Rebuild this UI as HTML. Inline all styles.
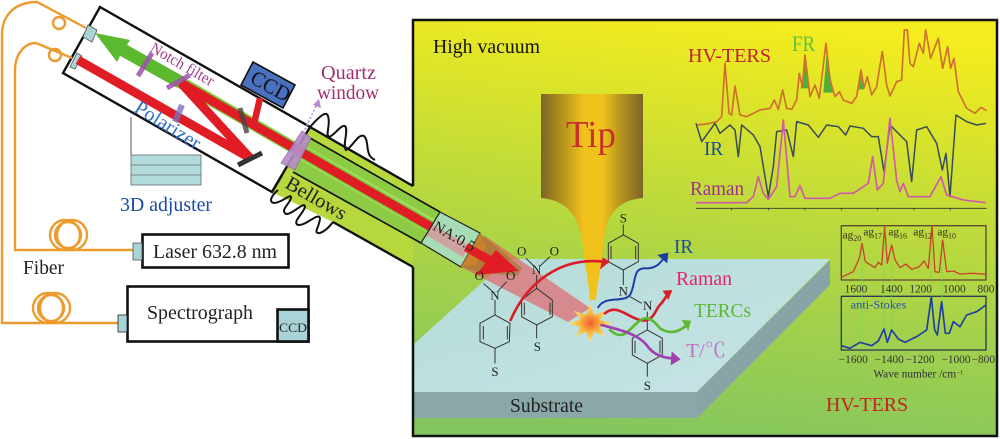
<!DOCTYPE html>
<html><head><meta charset="utf-8"><style>html,body{margin:0;padding:0;background:#fff}svg{display:block;filter:blur(0.35px)}text{font-family:"Liberation Serif","Noto Serif CJK SC",serif}</style></head><body>
<svg width="1000" height="439" viewBox="0 0 1000 439" xmlns="http://www.w3.org/2000/svg">
<defs>
<linearGradient id="bg" x1="0.42" y1="1" x2="0.58" y2="0"><stop offset="0" stop-color="#84c65e"/><stop offset="0.3" stop-color="#a2d04c"/><stop offset="0.55" stop-color="#bcda3c"/><stop offset="0.8" stop-color="#dce42a"/><stop offset="1" stop-color="#f4ec1e"/></linearGradient>
<linearGradient id="tip" x1="0" y1="0" x2="1" y2="0"><stop offset="0" stop-color="#7e6428"/><stop offset="0.25" stop-color="#c09c1c"/><stop offset="0.42" stop-color="#f2c21c"/><stop offset="0.6" stop-color="#f2c21c"/><stop offset="0.8" stop-color="#b0901e"/><stop offset="1" stop-color="#7e6428"/></linearGradient>
<linearGradient id="top" x1="0" y1="0" x2="1" y2="1"><stop offset="0" stop-color="#b4dcd8"/><stop offset="1" stop-color="#c8e4e6"/></linearGradient>
<radialGradient id="burst"><stop offset="0" stop-color="#f25a30"/><stop offset="0.5" stop-color="#f8b840"/><stop offset="1" stop-color="#fde880"/></radialGradient>
</defs>
<rect width="1000" height="439" fill="#fff"/>

<!-- panel -->
<path d="M413,20H997V436H413V267L413,185Z" fill="url(#bg)"/>
<!-- substrate -->
<path d="M508,259H830L697,392H413V345Z" fill="url(#top)"/>
<path d="M413,392H697V418H413Z" fill="#8ba8a8"/>
<path d="M697,392L830,260V285L697,418Z" fill="#88a4a6"/>
<path d="M413,186V20H997V436H413V267" fill="none" stroke="#111" stroke-width="2.5"/>

<!-- tip -->
<path d="M541,94H643V198C618,200 606,215 604,240C602,265 597,285 596,300H590C589,285 585,265 582,240C578,215 566,200 541,198Z" fill="url(#tip)"/>
<text x="566" y="147" font-size="38" fill="#c8302a" textLength="50" lengthAdjust="spacingAndGlyphs">Tip</text>

<!-- tube -->
<path d="M310,127L413,185V267L333,222L272,192Z" fill="#b6d83c"/>
<path d="M310,138L440,212L421,243L293,172Z" fill="#8ecb44"/>
<path d="M306,146L436,220L428,233L300,160Z" fill="#a4dc60"/>

<!-- optics box -->
<path d="M100,7L310,127L272,192L63,73Z" fill="#fff"/>
<path d="M131,117V155" stroke="#555" stroke-width="1"/>
<rect x="131" y="155" width="70" height="30" fill="#b2dcdc" stroke="#667" stroke-width="0.8"/>
<path d="M131,165H201M131,175H201" stroke="#667" stroke-width="0.8"/>
<path d="M100,7L310,127L272,192L63,73Z" fill="none" stroke="#111" stroke-width="2.4"/>
<polygon points="83,37 88,25 97,30 92,42" fill="#a8d4d4" stroke="#555" stroke-width="0.8"/>
<polygon points="70,67 77,53 82,56 75,69" fill="#a8d4d4" stroke="#555" stroke-width="0.8"/>

<!-- beams -->
<path d="M180,82L440,232" stroke="#7cc83a" stroke-width="12" fill="none"/>
<path d="M170,76L123,50L117,62L95,33L130,40L124,50" fill="#5cb82e"/>
<path d="M180,82L123,50" stroke="#5cb82e" stroke-width="13"/>
<path d="M78,60L250,158L181,83L440,232" stroke="#e01c24" stroke-width="9" fill="none" stroke-linejoin="miter"/>
<path d="M254,124L260,98M250,120L253,124" stroke="#e01c24" stroke-width="6.5" fill="none"/>

<!-- objective and cone -->
<path d="M440,212L480,233L461,267L421,243Z" fill="#a8dcb4"/>
<path d="M432,224L470,246L463,257L426,235Z" fill="#d89098" opacity="0.75"/>
<path d="M440,212L480,233L461,267L421,243Z" fill="none" stroke="#222" stroke-width="1.2"/>
<path d="M310,138L440,212M293,172L421,243" stroke="#111" stroke-width="1.6" fill="none"/>
<path d="M310,127L413,186M333,222L413,267M272,192L282,175" stroke="#111" stroke-width="2.4" fill="none"/>
<path d="M485,236L590,308L568,322L461,267Z" fill="#e8525a" opacity="0.6"/>
<path d="M480,233L522,268L518,276L484,273L461,267Z" fill="#a0742a" opacity="0.6"/>
<path d="M480,233L486,247L476,265L461,267Z" fill="#c8822e"/>
<path d="M466,247L500,266" stroke="#e01c24" stroke-width="9"/>
<polygon points="496,250 519,271 476,275" fill="#e01c24"/>

<path d="M152,53L138,76M167,88L190,75" stroke="#a050b0" stroke-width="5" opacity="0.85"/>
<path d="M182,105L175,122" stroke="#7a70c0" stroke-width="6" opacity="0.8"/>
<path d="M240,108L247,133" stroke="#444" stroke-width="5" opacity="0.8"/>
<path d="M238,165L262,153" stroke="#333" stroke-width="5"/>
<polygon points="253,62 295,85 283,108 241,85" fill="#4a70c0" stroke="#111" stroke-width="1.6"/>
<text transform="translate(249,82) rotate(29)" font-size="21" fill="#111" textLength="42" lengthAdjust="spacingAndGlyphs">CCD</text>

<!-- quartz window -->
<polygon points="302,131 311,138 295,170 281,163" fill="#b48cc8" stroke="#8a6aa8" stroke-width="0.8" opacity="0.9"/>
<path d="M293,155L317,104" stroke="#b98ad0" stroke-width="1.5" stroke-dasharray="2 2"/>
<polygon points="319,99 321,108 313,105" fill="#b98ad0"/>

<!-- bellows -->
<path d="M310,127C318,118 326,110 328,116C331,124 325,135 329,137C335,135 340,125 345,126C349,130 342,146 346,150C352,148 358,133 364,136C370,142 364,155 375,160" fill="none" stroke="#111" stroke-width="2"/>
<path d="M278,190C272,195 268,202 274,203C282,203 292,192 291,198C289,205 280,210 286,214C292,215 305,200 305,207C303,214 292,222 298,225C306,226 318,212 320,218C320,226 312,234 320,233C326,231 330,226 333,222" fill="none" stroke="#111" stroke-width="2"/>

<!-- fibers -->
<g fill="none" stroke="#eb9c2c" stroke-width="2.4">
<path d="M86,28L37,2C15,2 2,15 2,35V323H118"/>
<path d="M72,58L36,43C24,43 15,55 15,70V250H133"/>
<circle cx="59" cy="23" r="6"/><circle cx="55" cy="55" r="6"/>
<circle cx="65" cy="235" r="15"/><circle cx="72" cy="235" r="15"/><circle cx="68" cy="235" r="13"/>
<circle cx="48" cy="308" r="15"/><circle cx="55" cy="308" r="15"/><circle cx="51" cy="308" r="13"/>
</g>
<rect x="142.5" y="234.5" width="146" height="33" fill="#fff" stroke="#111" stroke-width="2.6"/>
<rect x="133" y="243" width="9" height="17" fill="#a8d4d8" stroke="#555" stroke-width="0.8"/>
<rect x="127.5" y="286.5" width="181" height="55" fill="#fff" stroke="#111" stroke-width="2.6"/>
<rect x="277.5" y="309.5" width="31" height="32" fill="#a8d4d8" stroke="#111" stroke-width="2.6"/>
<rect x="118" y="315" width="9" height="17" fill="#a8d4d8" stroke="#222" stroke-width="0.8"/>

<!-- left labels -->
<text x="153" y="258" font-size="19.5" fill="#222" textLength="124" lengthAdjust="spacingAndGlyphs">Laser 632.8 nm</text>
<text x="23" y="274" font-size="20" fill="#222" textLength="41" lengthAdjust="spacingAndGlyphs">Fiber</text>
<text x="147" y="319" font-size="19.5" fill="#222" textLength="106" lengthAdjust="spacingAndGlyphs">Spectrograph</text>
<text x="279" y="332" font-size="13" fill="#222" textLength="28" lengthAdjust="spacingAndGlyphs">CCD</text>
<text x="120" y="211" font-size="20" fill="#1a4aa8" textLength="92" lengthAdjust="spacingAndGlyphs">3D adjuster</text>
<text x="321" y="79" font-size="20" fill="#a03070" textLength="55" lengthAdjust="spacingAndGlyphs">Quartz</text>
<text x="317" y="99" font-size="20" fill="#a03070" textLength="62" lengthAdjust="spacingAndGlyphs">window</text>
<text transform="translate(149,51) rotate(30)" font-size="16" fill="#a0408a" textLength="71" lengthAdjust="spacingAndGlyphs">Notch filter</text>
<text transform="translate(133,111) rotate(32)" font-size="20" fill="#3070c8" textLength="74" lengthAdjust="spacingAndGlyphs">Polarizer</text>
<text transform="translate(284,187) rotate(30)" font-size="20" fill="#222" textLength="67" lengthAdjust="spacingAndGlyphs">Bellows</text>
<text transform="translate(432,229) rotate(30)" font-size="15" fill="#222" textLength="46" lengthAdjust="spacingAndGlyphs">NA:0.5</text>

<!-- panel labels -->
<text x="433" y="53" font-size="20" fill="#111" textLength="107" lengthAdjust="spacingAndGlyphs">High vacuum</text>
<text x="688" y="62" font-size="20" fill="#c02030" textLength="83" lengthAdjust="spacingAndGlyphs">HV-TERS</text>
<text x="792" y="51" font-size="22" fill="#5cc040" textLength="23" lengthAdjust="spacingAndGlyphs">FR</text>
<text x="704" y="155" font-size="20" fill="#1a4a9a" textLength="19" lengthAdjust="spacingAndGlyphs">IR</text>
<text x="690" y="195" font-size="20" fill="#a03090" textLength="54" lengthAdjust="spacingAndGlyphs">Raman</text>
<text x="826" y="411" font-size="20" fill="#c82020" textLength="82" lengthAdjust="spacingAndGlyphs">HV-TERS</text>
<text x="510" y="412" font-size="20" fill="#222" textLength="73" lengthAdjust="spacingAndGlyphs">Substrate</text>
<text x="674" y="253" font-size="20" fill="#1a4aa8" textLength="19" lengthAdjust="spacingAndGlyphs">IR</text>
<text x="676" y="285" font-size="20" fill="#e82070" textLength="56" lengthAdjust="spacingAndGlyphs">Raman</text>
<text x="694" y="317" font-size="20" fill="#5cb82e" textLength="57" lengthAdjust="spacingAndGlyphs">TERCs</text>
<text x="686" y="357" font-size="20" fill="#c070c0" textLength="40" lengthAdjust="spacingAndGlyphs">T/℃</text>

<!-- molecules and arrows -->
<g transform="translate(420,220) scale(0.3333)">
<g fill="none" stroke="#333" stroke-width="3">
<polygon points="225,285 270,310 268,365 225,385 180,365 180,310"/>
<polygon points="350,205 397,240 397,290 350,315 305,290 305,240"/>
<polygon points="610,45 655,70 655,125 610,150 565,125 565,70"/>
<polygon points="682,330 727,355 727,405 682,430 637,405 637,355"/>
<path d="M225,285V240M190,190L215,212M260,185L235,212M225,385V430M350,205V165M318,115L342,138M390,110L360,138M350,315V355M610,45V14M610,150L610,195M630,230L665,250M682,275V330M682,430V470M190,318V358M262,318V358M313,248V285M390,248V285M573,78V118M647,78V118M645,362V400M720,362V400"/>
</g>
<g font-size="39" fill="#222" text-anchor="middle">
<text x="178" y="180">O</text><text x="272" y="180">O</text><text x="225" y="238">N</text><text x="225" y="468">S</text>
<text x="305" y="106">O</text><text x="403" y="106">O</text><text x="350" y="162">N</text><text x="352" y="393">S</text>
<text x="610" y="8">S</text>
<text x="610" y="227">N</text><text x="683" y="270">N</text><text x="682" y="510">S</text>
</g>
<polygon points="510,250 522,285 560,272 540,300 578,310 540,322 556,350 522,335 510,368 498,335 466,350 482,322 445,310 482,298 462,272 498,285" fill="url(#burst)"/>
<g fill="none" stroke-width="8" stroke-linecap="round">
<path d="M272,300C320,190 420,110 550,125" stroke="#d81e28"/>
<path d="M535,262C555,225 610,250 630,225C650,190 635,140 680,145C710,145 720,130 735,110" stroke="#1e3ca8" stroke-width="6"/>
<path d="M555,280C590,250 620,290 660,300C700,310 705,270 720,255C730,245 738,230 745,220" stroke="#d81e28"/>
<path d="M570,330C610,365 625,330 650,310C680,280 700,300 720,325C750,345 780,335 800,315" stroke="#5cb82e"/>
<path d="M545,315C600,330 650,340 680,375C700,405 730,415 765,415" stroke="#a040b0"/>
</g>
<polygon points="570,125 540,148 548,112" fill="#d81e28"/>
<polygon points="745,98 742,130 712,105" fill="#1e3ca8"/>
<polygon points="757,210 745,240 728,212" fill="#d81e28"/>
<polygon points="813,302 805,332 785,300" fill="#5cb82e"/>
<polygon points="782,418 752,436 755,394" fill="#a040b0"/>
</g>

<!-- main spectra -->
<g transform="translate(680,20) scale(0.3333)" fill="none" stroke-linejoin="round">
<polygon points="362,205 375,125 390,205" fill="#4cb038"/>
<polygon points="430,218 440,100 460,218" fill="#4cb038"/>
<polygon points="536,208 543,165 552,208" fill="#4cb038"/>
<polyline stroke="#d0702e" stroke-width="5" points="50,315 80,312 110,305 125,290 135,130 147,280 155,285 165,198 180,285 200,290 240,270 270,265 283,240 295,268 308,210 320,265 335,268 350,240 358,160 367,200 375,105 390,230 405,195 418,235 438,70 450,180 465,230 478,215 490,240 515,250 530,230 543,150 552,205 562,170 575,225 590,200 597,155 607,95 620,195 630,228 650,185 665,180 673,30 682,30 690,130 700,140 718,70 730,100 737,30 752,115 775,55 788,145 803,80 812,145 822,115 835,215 860,265 885,280 903,262 920,272"/>
<polyline stroke="#3a4a5a" stroke-width="4.5" points="48,310 65,365 105,310 120,340 150,315 165,330 175,410 185,315 220,345 240,380 265,530 280,440 290,335 320,330 340,410 350,305 385,315 415,352 440,315 475,320 497,345 510,318 550,325 575,350 595,350 612,455 630,315 660,345 680,365 695,485 710,330 740,320 770,370 787,450 798,400 810,530 828,285 860,305 890,315 918,310"/>
<polyline stroke="#d05aa8" stroke-width="5" points="48,548 150,548 200,548 220,530 235,470 250,520 265,538 290,500 310,300 330,530 345,530 360,497 375,535 450,535 480,520 520,520 565,490 578,410 592,510 610,490 630,295 650,480 660,515 670,490 685,530 750,530 783,470 800,525 850,540 918,548"/>
<path d="M48,565H920M155,565v6M265,565v6M375,565v6M484,565v6M592,565v6M702,565v6M811,565v6" stroke="#333" stroke-width="2.5"/>
</g>

<!-- small spectra -->
<g transform="translate(800,215) scale(0.3333)" fill="none" stroke-linejoin="round">
<rect x="124" y="32" width="434" height="163" stroke="#5a4a30" stroke-width="4"/>
<rect x="124" y="244" width="434" height="161" stroke="#2a3a50" stroke-width="4"/>
<path d="M186,100V380M252,80V350M275,100V350M394,80V290M426,90V290" stroke="#70d860" stroke-width="3" stroke-dasharray="6 3"/>
<polyline stroke="#c8452a" stroke-width="4" points="124,187 160,170 178,130 186,85 196,140 225,158 235,142 245,150 254,35 262,145 275,90 285,135 300,158 318,147 335,163 358,155 372,138 385,160 396,32 405,170 418,172 428,75 440,170 460,168 480,177 520,175 558,178"/>
<polyline stroke="#2040a0" stroke-width="5" points="124,392 150,400 180,382 215,392 235,378 252,342 262,382 275,345 295,372 315,382 350,365 380,345 394,245 404,345 412,360 425,260 436,355 448,355 460,320 480,335 500,300 530,290 558,270"/>
<g fill="#3a3020" stroke="none">
<text x="128" y="70" font-size="34">ag<tspan font-size="24" dy="8">20</tspan></text>
<text x="190" y="62" font-size="34">ag<tspan font-size="24" dy="8">17</tspan></text>
<text x="265" y="62" font-size="34">ag<tspan font-size="24" dy="8">16</tspan></text>
<text x="340" y="62" font-size="34">ag<tspan font-size="24" dy="8">12</tspan></text>
<text x="412" y="62" font-size="34">ag<tspan font-size="24" dy="8">10</tspan></text>
</g>
<g fill="#333" stroke="none" font-size="34" text-anchor="middle">
<text x="168" y="232">1600</text><text x="274" y="232">1400</text><text x="362" y="232">1200</text><text x="463" y="232">1000</text><text x="558" y="232">800</text>
<text x="160" y="444">−1600</text><text x="268" y="444">−1400</text><text x="360" y="444">−1200</text><text x="468" y="444">−1000</text><text x="550" y="444">−800</text>
<text x="355" y="488" font-size="34">Wave  number /cm<tspan font-size="20" dy="-10">−1</tspan></text>
</g>
<text x="152" y="280" font-size="34" fill="#2a50a8" stroke="none" textLength="167" lengthAdjust="spacingAndGlyphs">anti-Stokes</text>
</g>
</svg>
</body></html>
